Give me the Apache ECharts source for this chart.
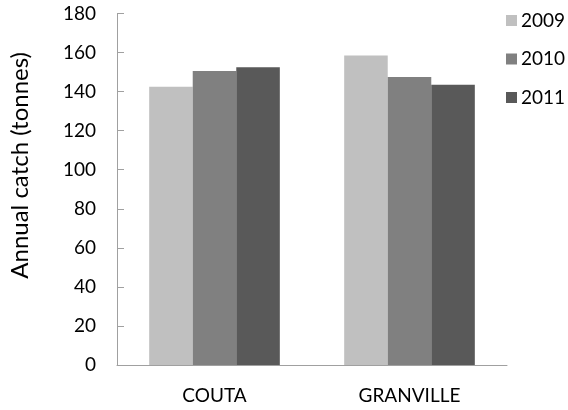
<!DOCTYPE html>
<html>
<head>
<meta charset="utf-8">
<script src="https://cdn.jsdelivr.net/npm/echarts@6/dist/echarts.min.js"></script>
<style>html,body{margin:0;padding:0;background:#fff}#c{width:568px;height:410px}</style>
</head>
<body>
<div id="c"></div>
<script>
const categories = ['COUTA', 'GRANVILLE'];
const seriesNames = ['2009', '2010', '2011'];
const values2009 = [142.5, 158.5];
const values2010 = [150.5, 147.5];
const values2011 = [152.5, 143.5];
const yTicks = { min: 0, max: 180, interval: 20 };
const yTitle = 'Annual catch (tonnes)';

const colors = ['#c0c0c0', '#808080', '#595959'];
const data = [values2009, values2010, values2011];
const font = 'Lato, "Open Sans", sans-serif';

const chart = echarts.init(document.getElementById('c'));
chart.setOption({
  animation: false,
  backgroundColor: '#fff',
  grid: { left: 117, right: 61, top: 13.5, bottom: 45 },
  legend: {
    orient: 'vertical',
    left: 501, top: 6,
    itemWidth: 11, itemHeight: 11,
    itemGap: 19.5,
    icon: 'rect',
    textStyle: { fontFamily: font, fontSize: 19, color: '#000', padding: [0, 0, 0, -1] },
    data: seriesNames
  },
  xAxis: {
    type: 'category',
    data: categories,
    axisLine: { lineStyle: { color: '#a0a0a0', width: 1 } },
    axisTick: { inside: true, length: 7, lineStyle: { color: '#a0a0a0' } },
    axisLabel: { fontFamily: font, fontSize: 19, color: '#000', margin: 21 }
  },
  yAxis: {
    type: 'value',
    min: yTicks.min, max: yTicks.max, interval: yTicks.interval,
    splitLine: { show: false },
    axisLine: { show: true, lineStyle: { color: '#a0a0a0', width: 1 } },
    axisTick: { show: true, inside: true, length: 7, lineStyle: { color: '#a0a0a0' } },
    axisLabel: { fontFamily: font, fontSize: 19, color: '#000', margin: 21 }
  },
  graphic: [{
    type: 'text',
    left: 8, top: 52,
    rotation: Math.PI / 2,
    style: { text: yTitle, fontFamily: font, fontSize: 24, fill: '#000' }
  }],
  series: seriesNames.map((n, i) => ({
    name: n,
    type: 'bar',
    data: data[i],
    barGap: '0%',
    barCategoryGap: '33%',
    itemStyle: { color: colors[i] }
  }))
});
</script>
</body>
</html>
